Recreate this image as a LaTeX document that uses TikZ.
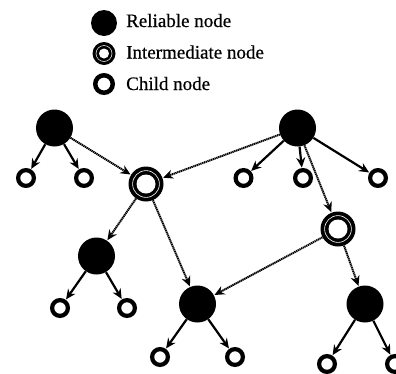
\documentclass[tikz,border=0pt]{standalone}
\usepackage{fontspec}
\setmainfont{Liberation Serif}
\newfontfamily\legfont[FakeBold=0.6]{Liberation Serif}
\usetikzlibrary{arrows.meta}
\tikzset{
  reliable/.style={circle, fill=black, inner sep=0pt, minimum size=37pt},
  childnode/.style={circle, draw=black, line width=4.2pt, inner sep=0pt, minimum size=15.8pt},
  interm/.style={circle, fill=black, inner sep=0pt, minimum size=35pt,
    path picture={
      \fill[white] (path picture bounding box.center) circle (9.5pt);
      \draw[white, line width=0.6pt] (path picture bounding box.center) circle (13.4pt);
    }},
  legreliable/.style={circle, fill=black, inner sep=0pt, minimum size=26pt},
  leginterm/.style={circle, fill=black, inner sep=0pt, minimum size=23pt,
    path picture={
      \fill[white] (path picture bounding box.center) circle (5pt);
      \draw[white, line width=0.5pt] (path picture bounding box.center) circle (8pt);
    }},
  legchild/.style={circle, draw=black, line width=4.5pt, inner sep=0pt, minimum size=17.5pt},
  legtext/.style={anchor=base west, inner sep=0pt, font=\legfont\fontsize{19}{22}\selectfont},
  solidarrow/.style={line width=2.2pt, -{Stealth[length=10pt,width=9pt]}, shorten >=0.5pt},
  dotarrow/.style={line width=2pt, dash pattern=on 1.3pt off 0.6pt, -{Stealth[length=10pt,width=9pt]}, shorten >=0.5pt}
}
\begin{document}
\begin{tikzpicture}[x=1pt, y=-1pt]
\useasboundingbox (0,0) rectangle (396,373);
% legend
\node[legreliable] (legR) at (104,23) {};
\node[leginterm] (legI) at (104,53.5) {};
\node[legchild] (legC) at (104,84) {};
\node[legtext] (tR) at (126,27) {Reliable node};
\node[legtext] (tI) at (126,58.5) {Intermediate node};
\node[legtext] (tC) at (126,90) {Child node};
% reliable nodes
\node[reliable] (TL) at (54.5,128) {};
\node[reliable] (TR) at (297.5,128) {};
\node[reliable] (ML) at (96.5,256) {};
\node[reliable] (BM) at (197.5,304) {};
\node[reliable] (BR) at (365,304) {};
% intermediate nodes
\node[interm] (I1) at (146,184) {};
\node[interm] (I2) at (338,229) {};
% children
\node[childnode] (c1) at (26,178) {};
\node[childnode] (c2) at (84,178) {};
\node[childnode] (c3) at (243.5,178) {};
\node[childnode] (c4) at (303,178) {};
\node[childnode] (c5) at (378,178) {};
\node[childnode] (c6) at (60,308) {};
\node[childnode] (c7) at (127,308) {};
\node[childnode] (c8) at (160,357) {};
\node[childnode] (c9) at (235,357) {};
\node[childnode] (c10) at (327,364) {};
\node[childnode] (c11) at (395,364) {};
% solid edges
\draw[solidarrow] (TL) -- (c1);
\draw[solidarrow] (TL) -- (c2);
\draw[solidarrow] (TR) -- (c3);
\draw[solidarrow] (TR) -- (c4);
\draw[solidarrow] (TR) -- (c5);
\draw[solidarrow] (ML) -- (c6);
\draw[solidarrow] (ML) -- (c7);
\draw[solidarrow] (BM) -- (c8);
\draw[solidarrow] (BM) -- (c9);
\draw[solidarrow] (BR) -- (c10);
\draw[solidarrow] (BR) -- (c11);
% dotted edges
\draw[dotarrow] (TL) -- (I1);
\draw[dotarrow] (TR) -- (I1);
\draw[dotarrow] (TR) -- (I2);
\draw[dotarrow] (I1) -- (ML);
\draw[dotarrow] (I1) -- (BM);
\draw[dotarrow] (I2) -- (BM);
\draw[dotarrow] (I2) -- (BR);
\end{tikzpicture}
\end{document}
